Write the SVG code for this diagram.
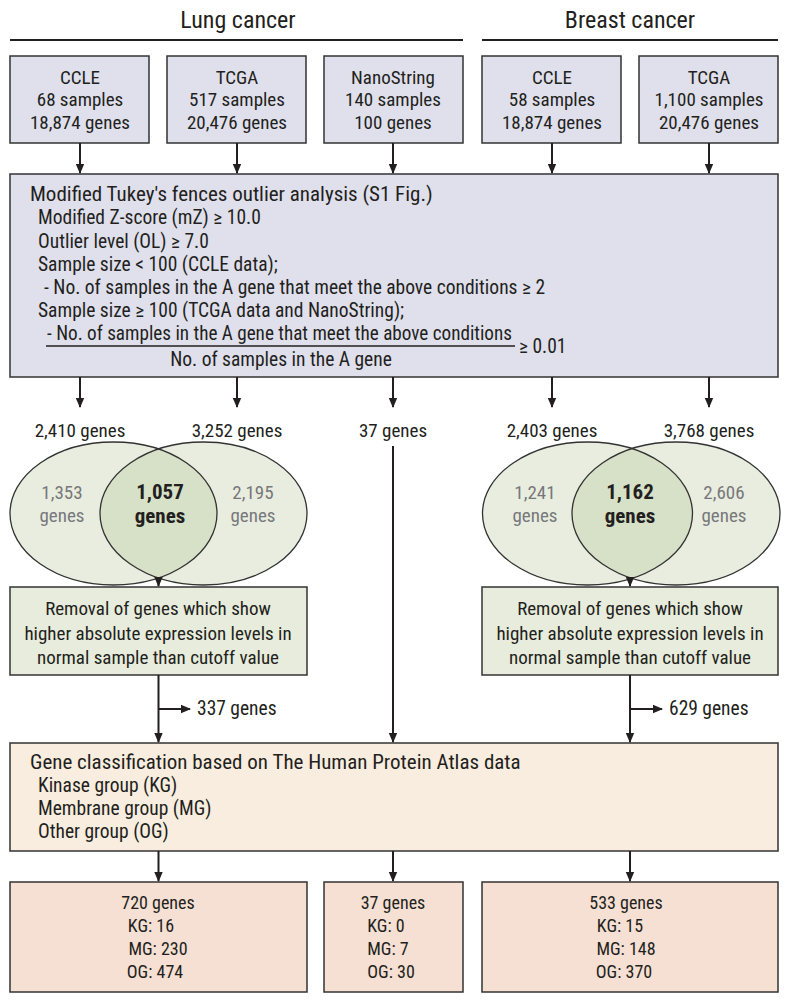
<svg xmlns="http://www.w3.org/2000/svg" width="789" height="1003" viewBox="0 0 789 1003">
<defs>
<marker id="ah" markerWidth="10" markerHeight="10" refX="9" refY="5" orient="auto" markerUnits="userSpaceOnUse">
<path d="M0,0.8 L10,5 L0,9.2 Z" fill="#231f20"/>
</marker>
<style>
text{font-family:"Liberation Sans Narrow","Roboto Condensed","Liberation Sans",sans-serif;fill:#231f20}
.hd{font-size:24px;text-anchor:middle}
.src{font-size:19px;text-anchor:middle}
.b{font-size:19.5px}
.t{font-size:21px}
.r{font-size:19px;text-anchor:middle}
.s{font-size:18px;text-anchor:middle}
.c{text-anchor:middle}
.g{fill:#77787b}
.vb{font-size:21px;font-weight:bold}
.box{stroke:#333;stroke-width:1.5}
.lav{fill:#dfe0ec}
.grn{fill:#e7ecdc}
.tan{fill:#f8eddf}
.pink{fill:#f6dfd3}
.con{stroke:#231f20;stroke-width:2;fill:none}
.vs{fill:none;stroke:#333;stroke-width:1.3}
</style>
</defs>
<rect width="789" height="1003" fill="#fff"/>
<g id="headers">
<text class="hd" x="238" y="28">Lung cancer</text>
<line x1="10" y1="40" x2="463" y2="40" stroke="#231f20" stroke-width="2"/>
<text class="hd" x="630" y="28">Breast cancer</text>
<line x1="482" y1="40" x2="778" y2="40" stroke="#231f20" stroke-width="2"/>
</g>
<g id="lung-ccle"><rect class="box lav" x="10" y="56" width="139" height="87"/>
<text class="src" x="80" y="84">CCLE</text><text class="src" x="80" y="106">68 samples</text><text class="src" x="80" y="129">18,874 genes</text></g>
<g id="lung-tcga"><rect class="box lav" x="167" y="56" width="139" height="87"/>
<text class="src" x="237" y="84">TCGA</text><text class="src" x="237" y="106">517 samples</text><text class="src" x="237" y="129">20,476 genes</text></g>
<g id="nanostring"><rect class="box lav" x="324" y="56" width="139" height="87"/>
<text class="src" x="393" y="84">NanoString</text><text class="src" x="393" y="106">140 samples</text><text class="src" x="393" y="129">100 genes</text></g>
<g id="breast-ccle"><rect class="box lav" x="482" y="56" width="139" height="87"/>
<text class="src" x="552" y="84">CCLE</text><text class="src" x="552" y="106">58 samples</text><text class="src" x="552" y="129">18,874 genes</text></g>
<g id="breast-tcga"><rect class="box lav" x="639" y="56" width="139" height="87"/>
<text class="src" x="709" y="84">TCGA</text><text class="src" x="709" y="106">1,100 samples</text><text class="src" x="709" y="129">20,476 genes</text></g>
<g id="tukey"><rect class="box lav" x="10" y="174" width="768" height="203"/>
<text class="t" x="30" y="201">Modified Tukey's fences outlier analysis (S1 Fig.)</text>
<text class="b" x="38" y="224">Modified Z-score (mZ) ≥ 10.0</text>
<text class="b" x="38" y="248">Outlier level (OL) ≥ 7.0</text>
<text class="b" x="38" y="271">Sample size &lt; 100 (CCLE data);</text>
<text class="b" x="44" y="294">- No. of samples in the A gene that meet the above conditions ≥ 2</text>
<text class="b" x="38" y="317">Sample size ≥ 100 (TCGA data and NanoString);</text>
<text class="b" x="47" y="340" textLength="465" lengthAdjust="spacingAndGlyphs">- No. of samples in the A gene that meet the above conditions</text>
<line x1="46" y1="346" x2="515" y2="346" stroke="#231f20" stroke-width="1.3"/>
<text class="b" x="519" y="353">≥ 0.01</text>
<text class="b c" x="281" y="366">No. of samples in the A gene</text>
</g>
<g id="counts">
<text class="src" x="80" y="437">2,410 genes</text>
<text class="src" x="237" y="437">3,252 genes</text>
<text class="src" x="393" y="437">37 genes</text>
<text class="src" x="552" y="437">2,403 genes</text>
<text class="src" x="709" y="437">3,768 genes</text>
</g>
<g id="venn-lung">
<ellipse cx="113.5" cy="513.5" rx="103.5" ry="71.5" fill="#e9eddf"/>
<ellipse cx="203.5" cy="513.5" rx="103.5" ry="71.5" fill="#e9eddf"/>
<clipPath id="cl1"><ellipse cx="113.5" cy="513.5" rx="103.5" ry="71.5"/></clipPath>
<ellipse cx="203.5" cy="513.5" rx="103.5" ry="71.5" fill="#d6e1c7" clip-path="url(#cl1)"/>
<ellipse class="vs" cx="113.5" cy="513.5" rx="103.5" ry="71.5"/>
<ellipse class="vs" cx="203.5" cy="513.5" rx="103.5" ry="71.5"/>
<text class="src g" x="62" y="499">1,353</text><text class="src g" x="62" y="522">genes</text>
<text class="src vb" x="160" y="499">1,057</text><text class="src vb" x="160" y="523">genes</text>
<text class="src g" x="253" y="499">2,195</text><text class="src g" x="253" y="522">genes</text>
</g>
<g id="venn-breast">
<ellipse cx="587.5" cy="513.5" rx="105" ry="71.5" fill="#e9eddf"/>
<ellipse cx="676" cy="513.5" rx="104" ry="71.5" fill="#e9eddf"/>
<clipPath id="cl2"><ellipse cx="587.5" cy="513.5" rx="105" ry="71.5"/></clipPath>
<ellipse cx="676" cy="513.5" rx="104" ry="71.5" fill="#d6e1c7" clip-path="url(#cl2)"/>
<ellipse class="vs" cx="587.5" cy="513.5" rx="105" ry="71.5"/>
<ellipse class="vs" cx="676" cy="513.5" rx="104" ry="71.5"/>
<text class="src g" x="535" y="499">1,241</text><text class="src g" x="535" y="522">genes</text>
<text class="src vb" x="630" y="499">1,162</text><text class="src vb" x="630" y="523">genes</text>
<text class="src g" x="724" y="499">2,606</text><text class="src g" x="724" y="522">genes</text>
</g>
<g id="removal-lung"><rect class="box grn" x="10" y="587" width="297" height="88"/>
<text class="r" x="158" y="615">Removal of genes which show</text>
<text class="r" x="158" y="640">higher absolute expression levels in</text>
<text class="r" x="158" y="664">normal sample than cutoff value</text></g>
<g id="removal-breast"><rect class="box grn" x="482" y="587" width="296" height="88"/>
<text class="r" x="630" y="615">Removal of genes which show</text>
<text class="r" x="630" y="640">higher absolute expression levels in</text>
<text class="r" x="630" y="664">normal sample than cutoff value</text></g>
<g id="removed-labels">
<text class="b" x="197" y="715">337 genes</text>
<text class="b" x="669" y="715">629 genes</text>
</g>
<g id="classification"><rect class="box tan" x="10" y="743" width="768" height="108"/>
<text class="t" x="30" y="769">Gene classification based on The Human Protein Atlas data</text>
<text class="b" x="38" y="792">Kinase group (KG)</text>
<text class="b" x="38" y="815">Membrane group (MG)</text>
<text class="b" x="38" y="838">Other group (OG)</text></g>
<g id="result-lung"><rect class="box pink" x="10" y="882" width="297" height="110"/>
<text class="s" x="158" y="909">720 genes</text><text class="s" x="151" y="932">KG: 16</text><text class="s" x="158" y="955">MG: 230</text><text class="s" x="155" y="978">OG: 474</text></g>
<g id="result-nano"><rect class="box pink" x="324" y="882" width="139" height="110"/>
<text class="s" x="393" y="909">37 genes</text><text class="s" x="386" y="932">KG: 0</text><text class="s" x="388" y="955">MG: 7</text><text class="s" x="391" y="978">OG: 30</text></g>
<g id="result-breast"><rect class="box pink" x="482" y="882" width="296" height="110"/>
<text class="s" x="626" y="909">533 genes</text><text class="s" x="620" y="932">KG: 15</text><text class="s" x="626" y="955">MG: 148</text><text class="s" x="624" y="978">OG: 370</text></g>
<g id="connectors">
<path class="con" d="M80,143V173" marker-end="url(#ah)"/>
<path class="con" d="M237,143V173" marker-end="url(#ah)"/>
<path class="con" d="M393,143V173" marker-end="url(#ah)"/>
<path class="con" d="M552,143V173" marker-end="url(#ah)"/>
<path class="con" d="M709,143V173" marker-end="url(#ah)"/>
<path class="con" d="M80,377V407" marker-end="url(#ah)"/>
<path class="con" d="M237,377V407" marker-end="url(#ah)"/>
<path class="con" d="M393,377V407" marker-end="url(#ah)"/>
<path class="con" d="M552,377V407" marker-end="url(#ah)"/>
<path class="con" d="M709,377V407" marker-end="url(#ah)"/>
<path class="con" d="M393,446V742" marker-end="url(#ah)"/>
<path class="con" d="M158.5,577V586" marker-end="url(#ah)"/>
<path class="con" d="M630,577V586" marker-end="url(#ah)"/>
<path class="con" d="M158.5,675V742" marker-end="url(#ah)"/>
<path class="con" d="M630,675V742" marker-end="url(#ah)"/>
<path class="con" d="M158.5,709H190" marker-end="url(#ah)"/>
<path class="con" d="M630,709H662" marker-end="url(#ah)"/>
<path class="con" d="M158.5,851V881" marker-end="url(#ah)"/>
<path class="con" d="M393,851V881" marker-end="url(#ah)"/>
<path class="con" d="M630,851V881" marker-end="url(#ah)"/>
</g>
</svg>
